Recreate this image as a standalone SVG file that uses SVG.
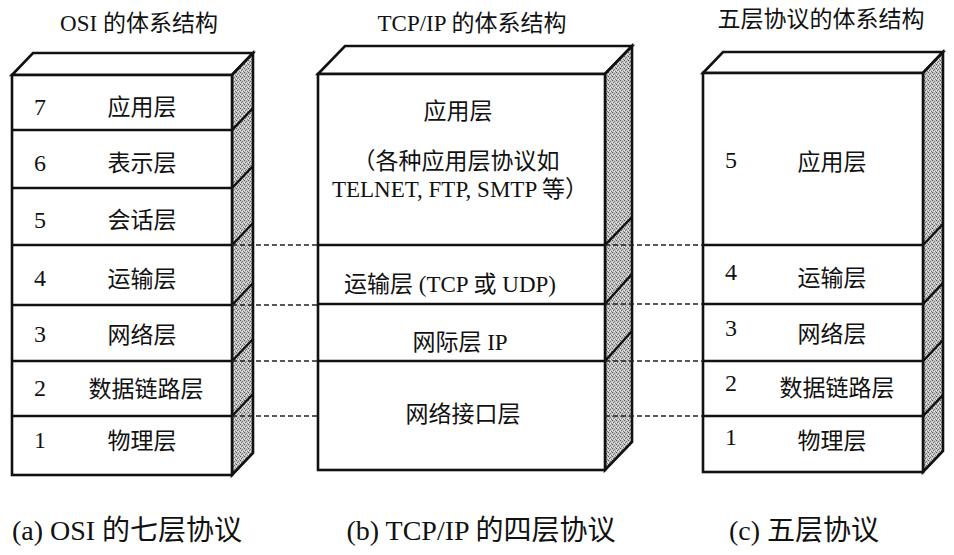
<svg xmlns="http://www.w3.org/2000/svg" width="954" height="555" viewBox="0 0 954 555">
<defs>
<pattern id="dots" width="4" height="4" patternUnits="userSpaceOnUse">
<rect width="4" height="4" fill="#c4c4c4"/>
<rect width="1" height="1" fill="#555"/>
<rect x="2" y="1" width="1" height="1" fill="#777"/>
<rect x="1" y="2" width="1" height="1" fill="#666"/>
<rect x="3" y="3" width="1" height="1" fill="#777"/>
<rect x="2" y="3" width="1" height="1" fill="#eee"/>
<rect x="0" y="2" width="1" height="1" fill="#eee"/>
</pattern>
</defs>
<style>
.face{fill:#fff;stroke:#111;stroke-width:2.6;stroke-linejoin:miter}
.side{fill:url(#dots);stroke:#111;stroke-width:2.6;stroke-linejoin:miter}
.ln{stroke:#111;stroke-width:2.4;fill:none}
.dash{stroke:#222;stroke-width:1.4;stroke-dasharray:5 3;fill:none}
text{font-family:"Liberation Serif","Noto Sans CJK SC",serif;fill:#111}
.lbl{font-size:23px;text-anchor:middle}
.num{font-size:24px;text-anchor:middle}
.ttl{font-size:23px;text-anchor:middle}
.cap{font-size:28px;text-anchor:middle}
</style>
<rect width="954" height="555" fill="#fff"/>

<text class="ttl" x="139" y="31">OSI 的体系结构</text>
<text class="ttl" x="472" y="31">TCP/IP 的体系结构</text>
<text class="ttl" x="821" y="27">五层协议的体系结构</text>

<g id="osi">
<polygon class="face" points="12,75 33,53 253,53 232,75"/>
<polygon class="side" points="232,75 253,53 253,453 232,475"/>
<rect class="face" x="12" y="75" width="220" height="400"/>
<path class="ln" d="M12,130H232l21,-22 M12,188H232l21,-22 M12,245H232l21,-22 M12,305H232l21,-22 M12,361H232l21,-22 M12,416H232l21,-22"/>
<g id="osi-7"><text class="num" x="40" y="115">7</text><text class="lbl" x="142" y="115">应用层</text></g>
<g id="osi-6"><text class="num" x="40" y="171">6</text><text class="lbl" x="142" y="171">表示层</text></g>
<g id="osi-5"><text class="num" x="40" y="228">5</text><text class="lbl" x="142" y="228">会话层</text></g>
<g id="osi-4"><text class="num" x="40" y="286">4</text><text class="lbl" x="142" y="287">运输层</text></g>
<g id="osi-3"><text class="num" x="40" y="342">3</text><text class="lbl" x="142" y="343">网络层</text></g>
<g id="osi-2"><text class="num" x="40" y="396">2</text><text class="lbl" x="146" y="397">数据链路层</text></g>
<g id="osi-1"><text class="num" x="40" y="448">1</text><text class="lbl" x="142" y="449">物理层</text></g>
</g>

<g id="tcpip">
<polygon class="face" points="318,74 345,46 632,46 605,74"/>
<polygon class="side" points="605,74 632,46 632,442 605,470"/>
<rect class="face" x="318" y="74" width="287" height="396"/>
<path class="ln" d="M318,245H605l27,-28 M318,304H605l27,-30 M318,361H605l27,-30"/>
<g id="tcpip-app">
<text class="lbl" x="458" y="119">应用层</text>
<text class="lbl" x="456" y="169">（各种应用层协议如</text>
<text class="lbl" x="460" y="197">TELNET, FTP, SMTP 等）</text>
</g>
<g id="tcpip-transport"><text class="lbl" x="450" y="292">运输层 (TCP 或 UDP)</text></g>
<g id="tcpip-ip"><text class="lbl" x="460" y="350">网际层 IP</text></g>
<g id="tcpip-link"><text class="lbl" x="463" y="422">网络接口层</text></g>
</g>

<g id="five">
<polygon class="face" points="703,73 723,52 943,52 923,73"/>
<polygon class="side" points="923,73 943,52 943,451 923,472"/>
<rect class="face" x="703" y="73" width="220" height="399"/>
<path class="ln" d="M703,245H923l20,-21 M703,304H923l20,-21 M703,361H923l20,-21 M703,416H923l20,-21"/>
<g id="five-5"><text class="num" x="731" y="168">5</text><text class="lbl" x="832" y="170">应用层</text></g>
<g id="five-4"><text class="num" x="731" y="280">4</text><text class="lbl" x="832" y="286">运输层</text></g>
<g id="five-3"><text class="num" x="731" y="336">3</text><text class="lbl" x="832" y="342">网络层</text></g>
<g id="five-2"><text class="num" x="731" y="391">2</text><text class="lbl" x="837" y="396">数据链路层</text></g>
<g id="five-1"><text class="num" x="731" y="445">1</text><text class="lbl" x="832" y="449">物理层</text></g>
</g>

<g id="connectors">
<path class="dash" d="M232,245H318 M232,305H318 M232,361H318 M232,416H318"/>
<path class="dash" d="M605,245H703 M605,304H703 M605,361H703 M605,416H703"/>
</g>

<text class="cap" x="127" y="540">(a) OSI 的七层协议</text>
<text class="cap" x="481" y="540">(b) TCP/IP 的四层协议</text>
<text class="cap" x="804" y="540">(c) 五层协议</text>
</svg>
